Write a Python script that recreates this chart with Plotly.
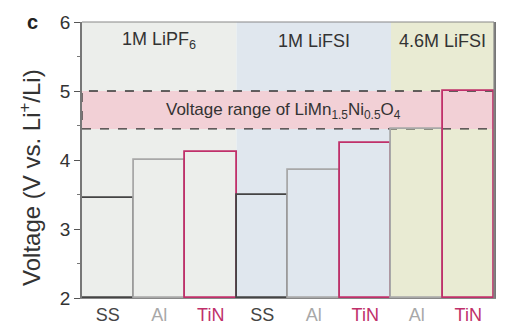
import plotly.graph_objects as go

categories = ["SS", "Al", "TiN", "SS", "Al", "TiN", "Al", "TiN"]
voltages = [3.45, 4.00, 4.12, 3.50, 3.86, 4.25, 4.45, 5.00]
groups = ["1M LiPF<sub>6</sub>", "1M LiFSI", "4.6M LiFSI"]
group_spans = [(0, 2), (3, 5), (6, 7)]
band_range = [4.45, 5.0]

mat_color = {"SS": "#444444", "Al": "#a8a8a8", "TiN": "#c0306a"}
group_bg = ["#eceeeb", "#e0e7ee", "#e9ebd3"]

x = list(range(len(categories)))
fig = go.Figure()
fig.add_trace(go.Bar(
    x=x, y=[v - 2 for v in voltages], base=2, width=1,
    marker=dict(color="rgba(0,0,0,0)",
                line=dict(color=[mat_color[c] for c in categories], width=1.8)),
    hoverinfo="skip", showlegend=False))

shapes = []
for (a, b), col in zip(group_spans, group_bg):
    shapes.append(dict(type="rect", xref="x", yref="y", x0=a - 0.5, x1=b + 0.5,
                       y0=2, y1=6, fillcolor=col, line=dict(width=0), layer="below"))
shapes.append(dict(type="rect", xref="x", yref="y", x0=-0.5, x1=7.5,
                   y0=band_range[0], y1=band_range[1], fillcolor="#f2d0d6",
                   line=dict(color="#333", width=1.3, dash="dash"), layer="below"))

annotations = []
for (a, b), g in zip(group_spans, groups):
    annotations.append(dict(x=(a + b) / 2, y=5.73, xref="x", yref="y", text=g,
                            showarrow=False, font=dict(size=18, color="#333")))
annotations.append(dict(x=3.42, y=4.71, xref="x", yref="y",
                        text="Voltage range of LiMn<sub>1.5</sub>Ni<sub>0.5</sub>O<sub>4</sub>",
                        showarrow=False, font=dict(size=17, color="#333")))
annotations.append(dict(x=(17 - 74) / 412, y=6.0, xref="paper", yref="y", text="<b>c</b>",
                        showarrow=False, font=dict(size=20, color="#222")))
annotations.append(dict(x=(22 - 74) / 412, y=0.435, xref="paper", yref="paper",
                        xanchor="center", yanchor="middle",
                        text="Voltage (V vs. Li<sup>+</sup>/Li)", textangle=-90,
                        showarrow=False, font=dict(size=24, color="#333")))

ticktext = [f"<span style='color:{mat_color[c]}'>{c}</span>" for c in categories]

# page body has an 8px default margin, so the figure is sized to fit the window
fig.update_layout(
    width=506, height=314,
    margin=dict(l=74, r=20, t=14, b=24),
    paper_bgcolor="white", plot_bgcolor="white",
    font=dict(family="Liberation Sans, Arial, sans-serif", color="#333"),
    shapes=shapes, annotations=annotations, bargap=0,
    xaxis=dict(range=[-0.5, 7.5], tickvals=x, ticktext=ticktext, showgrid=False,
               zeroline=False, showline=True, linecolor="#888", linewidth=1.2,
               mirror=False, ticks="", tickfont=dict(size=18), automargin=False),
    yaxis=dict(range=[2, 6], tickvals=[2, 3, 4, 5, 6], showgrid=False, zeroline=False,
               showline=True, linecolor="#777", linewidth=1.5, mirror=True,
               ticks="outside", ticklen=6, tickcolor="#555", tickfont=dict(size=19),
               automargin=False,
               minor=dict(tickvals=[2.5, 3.5, 4.5, 5.5], ticks="outside", ticklen=3,
                          tickcolor="#777")),
)
fig.add_shape(type="line", xref="paper", yref="paper", x0=0, x1=1, y0=1, y1=1,
              line=dict(color="#888", width=1.2))
fig.add_shape(type="line", xref="paper", yref="paper", x0=1, x1=1, y0=0, y1=1,
              line=dict(color="#888", width=1.2))

fig.write_html("out.html")
